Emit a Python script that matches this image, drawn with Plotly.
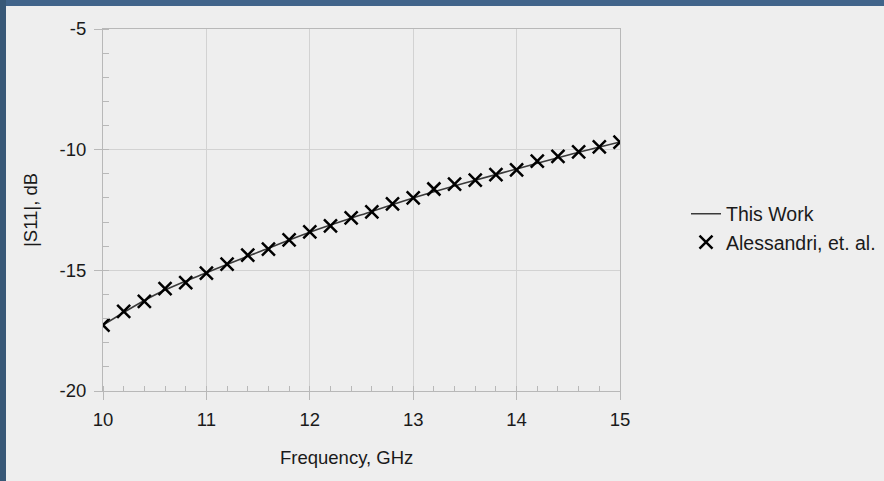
import plotly.graph_objects as go

# Measured points (Alessandri, et. al.)
freq_ref = [10.0, 10.2, 10.4, 10.6, 10.8, 11.0, 11.2, 11.4, 11.6, 11.8, 12.0, 12.2, 12.4,
            12.6, 12.8, 13.0, 13.2, 13.4, 13.6, 13.8, 14.0, 14.2, 14.4, 14.6, 14.8, 15.0]
s11_ref = [-17.27, -16.70, -16.29, -15.76, -15.51, -15.12, -14.74, -14.37, -14.12, -13.74,
           -13.41, -13.16, -12.83, -12.58, -12.25, -12.00, -11.63, -11.43, -11.26, -11.03,
           -10.84, -10.47, -10.28, -10.09, -9.88, -9.69]

# This Work curve
freq_work = [10.0, 10.5, 11.0, 11.5, 12.0, 12.5, 13.0, 13.5, 14.0, 14.5, 15.0]
s11_work = [-17.27, -16.02, -15.10, -14.25, -13.42, -12.70, -12.00, -11.38, -10.80, -10.22, -9.68]

x_ticks = [10, 11, 12, 13, 14, 15]
y_ticks = [-20, -15, -10, -5]

FONT = "Liberation Sans, Arial, sans-serif"
BG = "#eeeeee"
GRID = "#d2d2d2"
AXIS = "#b8b8b8"
TXT = "#1a1a1a"

L, R, T, B = 103, 264, 29, 90
W, H = 884, 481
pw, ph = W - L - R, H - T - B

def px_x(p):
    return (p - L) / pw

def px_y(p):
    return (H - B - p) / ph

fig = go.Figure()
fig.add_trace(go.Scatter(
    x=freq_work, y=s11_work, mode="lines", name="This Work",
    line=dict(color="#3a3a3a", width=1.6, shape="spline"),
))
fig.add_trace(go.Scatter(
    x=freq_ref, y=s11_ref, mode="markers", name="Alessandri, et. al.",
    marker=dict(symbol="x-thin", size=13, line=dict(color="#000000", width=2.5)),
))

fig.update_layout(
    width=W, height=H,
    margin=dict(l=L, r=R, t=T, b=B, pad=0, autoexpand=False),
    paper_bgcolor=BG,
    plot_bgcolor=BG,
    font=dict(family=FONT, size=18.5, color=TXT),
    showlegend=True,
    legend=dict(x=px_x(686), xanchor="left", y=px_y(228), yanchor="middle",
                bgcolor="rgba(0,0,0,0)", font=dict(size=19.5, color=TXT),
                tracegroupgap=0),
    shapes=[
        dict(type="rect", xref="paper", yref="paper",
             x0=px_x(-5), x1=px_x(W + 5), y0=px_y(6), y1=px_y(-5),
             fillcolor="#41648a", line=dict(width=0), layer="below"),
        dict(type="rect", xref="paper", yref="paper",
             x0=px_x(-5), x1=px_x(6), y0=px_y(H + 5), y1=px_y(-5),
             fillcolor="#385877", line=dict(width=0), layer="below"),
    ],
    annotations=[
        dict(text="Frequency, GHz", xref="paper", yref="paper", x=px_x(346), y=px_y(457),
             xanchor="center", yanchor="middle", showarrow=False,
             font=dict(size=18.5, color=TXT, family=FONT)),
        dict(text="|S11|, dB", xref="paper", yref="paper", x=px_x(30), y=px_y(210),
             xanchor="center", yanchor="middle", showarrow=False, textangle=-90,
             font=dict(size=18.5, color=TXT, family=FONT)),
    ],
)

fig.update_xaxes(
    range=[10, 15], tickvals=x_ticks, ticktext=[str(v) for v in x_ticks],
    showgrid=True, gridcolor=GRID, gridwidth=1,
    showline=True, linecolor=AXIS, linewidth=1, mirror=True,
    ticks="outside", ticklen=8, tickcolor=AXIS, tickwidth=1,
    minor=dict(dtick=0.2, tick0=10, ticks="inside", ticklen=5, tickcolor=AXIS, showgrid=False),
    zeroline=False, ticklabelstandoff=4, automargin=False,
)
fig.update_yaxes(
    range=[-20, -5], tickvals=y_ticks, ticktext=[str(v) for v in y_ticks],
    showgrid=True, gridcolor=GRID, gridwidth=1,
    showline=True, linecolor=AXIS, linewidth=1, mirror=True,
    ticks="outside", ticklen=8, tickcolor=AXIS, tickwidth=1,
    minor=dict(dtick=1, tick0=-20, ticks="inside", ticklen=6, tickcolor=AXIS, showgrid=False),
    zeroline=False, ticklabelstandoff=4, automargin=False,
)

fig.write_html("out.html")
